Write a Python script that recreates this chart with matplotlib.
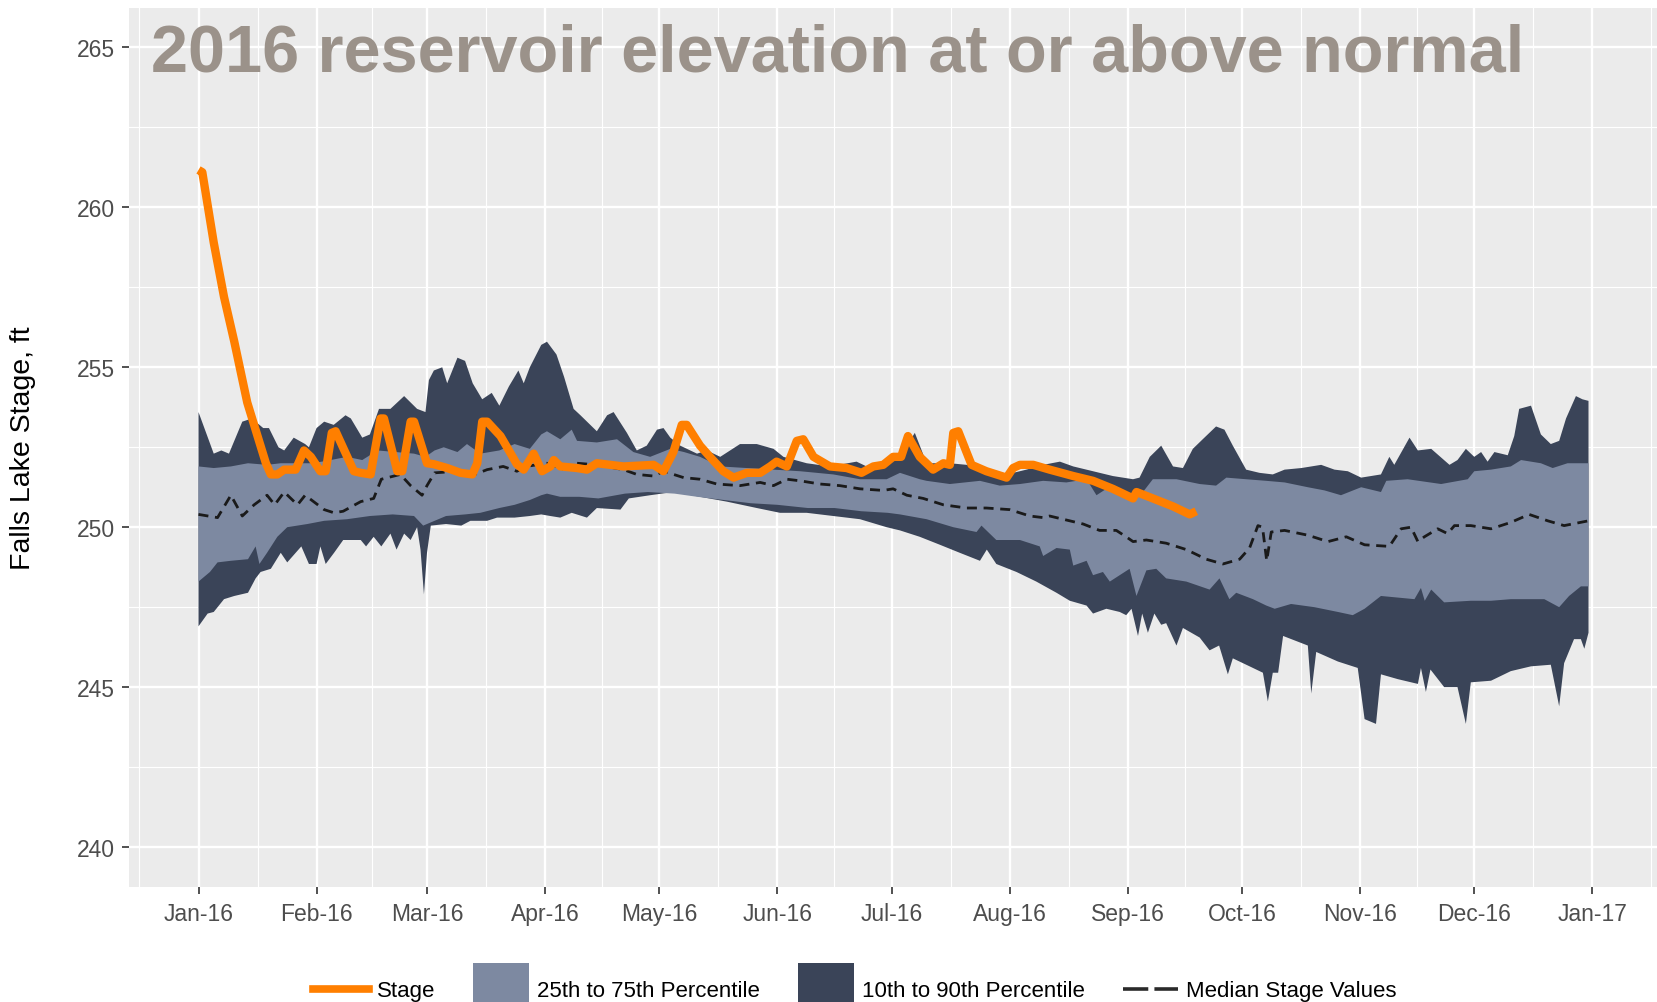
import numpy as np
import matplotlib
matplotlib.use("Agg")
import matplotlib.pyplot as plt
import matplotlib.dates as mdates
from matplotlib.lines import Line2D
from matplotlib.patches import Patch
from matplotlib.legend_handler import HandlerLine2D
from datetime import datetime

plt.rcParams['font.family'] = ['Liberation Sans', 'DejaVu Sans']

# values; x = days since 1 Jan 2016
p90_days = [0, 4, 6, 8, 11.5, 14, 17, 18.5, 21, 22.5, 25, 28, 29, 31, 33, 35.5, 38.6, 40, 43, 45,
            47.4, 50.4, 54, 57.4, 59.6, 60.5, 61.8, 64, 65.3, 68, 70, 72, 74.5, 77, 79, 81.5, 84, 85.4,
            87, 90, 91.5, 94, 96, 98.5, 100.3, 104.6, 107.3, 109, 112.5, 115.1, 117.7, 120.4, 122.1,
            123.9, 126.5, 130.9, 133.5, 137, 142.2, 146.6, 151, 153.6, 159.7, 165.8, 172.8, 177.2,
            182.4, 186, 188.1, 191.2, 197.3, 201.7, 206.9, 212.2, 217.4, 221.8, 226.2, 229.7, 234.9,
            240.1, 245.4, 247.1, 249.8, 252.8, 255.9, 258.5, 261.1, 263.7, 267.2, 269.4, 271.6, 275.1,
            278.6, 282.1, 285.2, 289.6, 294.8, 298.3, 301.8, 305.3, 310.5, 312.7, 314, 318, 320.2,
            323.7, 328.5, 330.6, 332.8, 335, 336.8, 338.5, 340.3, 343.8, 345.5, 346.8, 349.9, 352.5,
            355.1, 357.3, 359.1, 361.7, 363.4, 365]
p90_vals = [253.6, 252.3, 252.4, 252.3, 253.3, 253.4, 253.1, 253.1, 252.5, 252.4, 252.8, 252.6, 252.5,
            253.1, 253.3, 253.2, 253.5, 253.4, 252.8, 252.9, 253.7, 253.7, 254.1, 253.7, 253.6, 254.6,
            254.9, 255.0, 254.5, 255.3, 255.2, 254.5, 254.0, 254.2, 253.8, 254.4, 254.9, 254.5, 255.0,
            255.7, 255.8, 255.4, 254.7, 253.7, 253.5, 253.0, 253.5, 253.6, 252.95, 252.4, 252.55,
            253.05, 253.1, 252.8, 252.55, 252.3, 252.4, 252.2, 252.6, 252.6, 252.45, 252.2, 252.0,
            251.9, 252.05, 251.8, 252.1, 252.55, 252.95, 252.0, 252.0, 251.95, 251.8, 251.65, 251.8,
            251.95, 252.05, 251.9, 251.75, 251.6, 251.5, 251.55, 252.2, 252.55, 251.9, 251.85, 252.45,
            252.75, 253.15, 253.05, 252.55, 251.8, 251.7, 251.65, 251.8, 251.85, 251.95, 251.8, 251.75,
            251.55, 251.65, 252.2, 251.95, 252.8, 252.4, 252.45, 251.95, 252.1, 252.45, 252.2, 252.35,
            252.05, 252.35, 252.25, 252.85, 253.7, 253.8, 252.9, 252.6, 252.7, 253.4, 254.1, 254.0,
            253.95]

p75_days = [0, 4, 8.5, 13, 18, 21.6, 30, 34.7, 39, 43, 47, 56.6, 59.6, 62, 64.4, 68, 70.5, 74, 79, 83,
            87, 90, 91.5, 95, 98, 99.4, 104.6, 109.9, 114.2, 118.6, 123.9, 127.5, 131.7, 137, 144, 151,
            158, 166.7, 173.7, 180.7, 184.2, 189.4, 191.2, 197.3, 205.2, 210.4, 215.7, 221.8, 227.9,
            233.2, 235.8, 238.4, 243.6, 248, 250.6, 256.8, 262.9, 267.2, 269.9, 275.1, 280.4, 285.2,
            291.3, 295.7, 300, 305.3, 310.5, 311.9, 317.5, 326.3, 333.3, 335, 339.4, 344.6, 347.3,
            352.5, 355.6, 359.5, 365]
p75_vals = [251.9, 251.85, 251.9, 252.0, 251.95, 252.0, 252.0, 252.1, 252.2, 252.1, 252.4, 252.3, 252.2,
            252.4, 252.5, 252.35, 252.6, 252.3, 252.4, 252.6, 252.45, 252.9, 253.0, 252.75, 253.05,
            252.7, 252.65, 252.75, 252.35, 252.2, 252.45, 252.35, 252.2, 251.9, 251.85, 251.8, 251.75,
            251.65, 251.5, 251.5, 251.7, 251.5, 251.45, 251.35, 251.45, 251.3, 251.35, 251.45, 251.4,
            251.5, 251.0, 251.2, 251.0, 251.1, 251.5, 251.5, 251.35, 251.3, 251.55, 251.5, 251.45,
            251.4, 251.25, 251.15, 251.0, 251.25, 251.1, 251.45, 251.5, 251.35, 251.5, 251.75, 251.8,
            251.9, 252.1, 252.0, 251.85, 252.0, 252.0]

p25_days = [0, 3, 5, 8.5, 13, 15, 16, 18, 20.7, 23.3, 28.6, 33, 39, 45, 51, 56.6, 59, 61, 65, 70, 74,
            79, 83, 87, 90, 91.5, 95, 100, 105, 112, 118, 125, 131, 138, 145, 152, 160, 167, 174, 181,
            184.2, 191.2, 198.2, 204.3, 205.6, 209.5, 215.7, 220.9, 221.8, 225.3, 228.8, 229.7, 233.2,
            234.9, 237.5, 239.3, 244.5, 246.3, 248.9, 251.5, 254.1, 259.4, 265.5, 268.1, 270.7, 272.5,
            276.9, 280.4, 282.6, 286.9, 293, 299.2, 303.1, 306.2, 310.5, 319.3, 321, 322, 323.7, 327.1,
            334.1, 339.4, 344.6, 353.4, 357.3, 359.9, 363, 365]
p25_vals = [248.3, 248.6, 248.9, 248.95, 249.0, 249.4, 248.85, 249.2, 249.7, 250.0, 250.1, 250.2, 250.25,
            250.35, 250.4, 250.35, 250.05, 250.15, 250.35, 250.4, 250.45, 250.6, 250.7, 250.85, 251.0,
            251.05, 250.95, 250.95, 250.9, 251.05, 251.1, 251.05, 250.95, 250.85, 250.75, 250.7, 250.6,
            250.6, 250.5, 250.45, 250.4, 250.25, 250.0, 249.85, 250.05, 249.6, 249.6, 249.4, 249.1,
            249.35, 249.3, 248.8, 248.95, 248.5, 248.6, 248.3, 248.7, 247.85, 248.65, 248.7, 248.4,
            248.3, 248.05, 248.4, 247.75, 247.95, 247.75, 247.55, 247.45, 247.6, 247.5, 247.35, 247.25,
            247.45, 247.85, 247.75, 248.1, 247.7, 248.05, 247.65, 247.7, 247.7, 247.75, 247.75, 247.5,
            247.85, 248.15, 248.15]

p10_days = [0, 2.4, 4, 6.7, 9.4, 13, 15, 16.3, 19, 21.6, 23.3, 27, 29, 31, 32, 33.4, 35.6, 38, 42.6, 44,
            46, 48, 50.4, 52, 54, 55.7, 57.4, 58.3, 59.2, 60, 61, 65, 69, 71.4, 75.8, 78.4, 83, 87, 90,
            92.4, 95, 98, 102, 104.6, 110.8, 113, 118.6, 124.7, 131.7, 138.7, 146.6, 152.7, 159.7,
            166.7, 173.7, 180.7, 184.2, 189.4, 194.7, 199.9, 205.2, 207, 209.5, 214.8, 220, 225.3,
            228.8, 233.2, 234.9, 238.4, 241.9, 243.6, 245, 246.7, 247.8, 249.3, 251, 252.8, 254.1,
            256.8, 258.5, 262.9, 265.5, 268, 270.3, 271.6, 276, 279.5, 280.8, 282.1, 283.5, 284.8,
            291.3, 292.2, 293.5, 299.2, 304.4, 306.2, 309.2, 310.5, 314.9, 320.2, 321, 322.3, 323.5,
            327.1, 330.6, 332.8, 334.1, 339.4, 344.6, 349.9, 355.1, 357.3, 358.6, 361.2, 363, 363.9, 365]
p10_vals = [246.9, 247.3, 247.35, 247.75, 247.85, 247.95, 248.4, 248.6, 248.7, 249.2, 248.9, 249.4, 248.85,
            248.85, 249.4, 248.85, 249.2, 249.6, 249.6, 249.4, 249.7, 249.4, 249.8, 249.3, 249.8, 249.6,
            250.0, 249.3, 247.9, 249.2, 250.05, 250.1, 250.05, 250.2, 250.2, 250.3, 250.3, 250.35,
            250.4, 250.35, 250.3, 250.45, 250.3, 250.6, 250.55, 250.9, 251.0, 251.1, 250.95, 250.8,
            250.6, 250.45, 250.45, 250.35, 250.25, 250.0, 249.9, 249.7, 249.45, 249.2, 248.95, 249.3,
            248.85, 248.6, 248.3, 247.95, 247.7, 247.55, 247.3, 247.45, 247.35, 247.25, 247.45, 246.6,
            247.3, 246.7, 247.3, 246.95, 247.0, 246.3, 246.85, 246.55, 246.15, 246.3, 245.4, 245.9,
            245.65, 245.45, 244.55, 245.45, 245.45, 246.6, 246.3, 244.8, 246.1, 245.8, 245.6, 244.0,
            243.85, 245.4, 245.25, 245.1, 245.6, 244.85, 245.55, 245.0, 245.0, 243.85, 245.15, 245.2,
            245.5, 245.65, 245.7, 244.4, 245.75, 246.5, 246.5, 246.2, 246.7]

median_days = [0, 5, 8.5, 11.5, 14.6, 18, 20, 22.5, 26, 28, 33, 35.6, 38, 42.6, 46, 48, 53, 55.7, 58.7,
               60, 62, 68, 71.4, 75.8, 80, 83.6, 86, 91.5, 94, 95, 99.4, 104.6, 111.6, 115.1, 119.5,
               122.1, 127.4, 131.7, 136.1, 142.2, 147.5, 151, 154.5, 158, 163.2, 168.4, 173.7, 179.8,
               182.4, 186, 190.3, 195.6, 201.7, 206.9, 213, 218.3, 221.8, 223.5, 227, 232.3, 236.6, 241,
               243.6, 245.4, 248.9, 254.1, 259.4, 264.6, 269, 273.4, 276, 278.2, 279.4, 280.5, 281.7,
               285.2, 291.3, 296.6, 301.4, 306.2, 312.7, 315.8, 318.4, 320.2, 321.9, 325.4, 328, 329.8,
               334.1, 339.4, 344.6, 349.4, 354.3, 358.6, 365]
median_vals = [250.4, 250.3, 251.0, 250.35, 250.7, 251.0, 250.7, 251.1, 250.7, 251.0, 250.55, 250.45,
               250.5, 250.8, 250.9, 251.5, 251.65, 251.3, 251.0, 251.3, 251.7, 251.75, 251.6, 251.8,
               251.9, 251.75, 251.9, 252.0, 251.9, 251.8, 252.0, 251.95, 251.8, 251.65, 251.6, 251.75,
               251.55, 251.5, 251.35, 251.3, 251.4, 251.3, 251.5, 251.45, 251.35, 251.3, 251.2, 251.15,
               251.2, 251.0, 250.9, 250.7, 250.6, 250.6, 250.55, 250.35, 250.3, 250.35, 250.25, 250.1,
               249.9, 249.9, 249.7, 249.55, 249.6, 249.5, 249.3, 249.0, 248.85, 249.0, 249.35, 250.05,
               250.0, 248.95, 249.85, 249.9, 249.75, 249.55, 249.7, 249.45, 249.4, 249.95, 250.0,
               249.55, 249.7, 249.95, 249.8, 250.05, 250.05, 249.95, 250.15, 250.4, 250.2, 250.05, 250.2]

stage_days = [0, 1, 4, 6.7, 9.4, 12.8, 15.5, 17.7, 19, 20.7, 22.5, 25.5, 27.7, 29.5, 32, 33.4, 35, 36,
              40.8, 42.6, 45.2, 47.8, 48.7, 52.2, 53.5, 55.7, 56.6, 60, 61.8, 65.3, 68.8, 71.9, 73.2,
              74.5, 75.8, 79.3, 82, 83.6, 85.4, 88, 90.2, 92.4, 93.3, 95, 99.4, 102, 104.6, 111.6, 119.5,
              122.1, 124.7, 126.9, 128.2, 131.7, 134.3, 137.8, 140.5, 144, 147.5, 150.1, 151.8, 154.5,
              157.1, 158.8, 161.5, 165.8, 170.2, 174.1, 177.2, 179.8, 182.4, 184.5, 186.3, 189.4, 192.9,
              195.6, 197.3, 198.2, 199.5, 203, 206.9, 212.2, 213.9, 215.7, 219.2, 223.5, 229.7, 234.9,
              240.1, 245.4, 246.3, 250.6, 255.9, 260.3, 262]
stage_vals = [261.17, 261.1, 258.9, 257.2, 255.8, 253.9, 252.85, 252.0, 251.65, 251.65, 251.8, 251.8,
              252.4, 252.2, 251.75, 251.75, 252.95, 253.0, 251.75, 251.7, 251.65, 253.4, 253.4, 251.75,
              251.75, 253.3, 253.3, 252.0, 251.97, 251.85, 251.7, 251.65, 252.0, 253.3, 253.3, 252.85,
              252.3, 251.97, 251.8, 252.3, 251.75, 251.9, 252.1, 251.9, 251.85, 251.8, 252.0, 251.9,
              251.95, 251.75, 252.35, 253.2, 253.2, 252.55, 252.2, 251.75, 251.55, 251.7, 251.7, 251.9,
              252.05, 251.9, 252.7, 252.75, 252.2, 251.9, 251.85, 251.7, 251.9, 251.95, 252.2, 252.2,
              252.85, 252.2, 251.8, 252.0, 251.95, 252.95, 253.0, 251.95, 251.75, 251.55, 251.85, 251.95,
              251.95, 251.8, 251.6, 251.45, 251.2, 250.9, 251.1, 250.9, 250.65, 250.4, 250.5]

yticks = [240, 245, 250, 255, 260, 265]
title = "2016 reservoir elevation at or above normal"

base = mdates.date2num(datetime(2016, 1, 1))


def dx(days):
    return base + np.asarray(days, dtype=float)


class LowLine(HandlerLine2D):
    # put legend lines level with the text, as in the original
    def create_artists(self, legend, orig_handle, xdescent, ydescent, width, height, fontsize, trans):
        arts = super().create_artists(legend, orig_handle, xdescent, ydescent, width, height,
                                      fontsize, trans)
        for a in arts:
            a.set_ydata(np.asarray(a.get_ydata()) - 0.43 * fontsize)
        return arts


dark = '#3A4458'
light = '#7D89A1'
orange = '#FF7F00'

fig = plt.figure(figsize=(16.58, 10.03), dpi=100)
ax = fig.add_axes([129 / 1658, 1 - 888 / 1003, 1 - 129 / 1658, (888 - 8.5) / 1003])
ax.set_facecolor('#EBEBEB')

# 10th-90th band, then 25th-75th band on top
ax.fill(np.r_[dx(p90_days), dx(p10_days)[::-1]], np.r_[p90_vals, p10_vals[::-1]],
        color=dark, lw=0, zorder=2)
ax.fill(np.r_[dx(p75_days), dx(p25_days)[::-1]], np.r_[p75_vals, p25_vals[::-1]],
        color=light, lw=0, zorder=3)
ax.plot(dx(median_days), median_vals, color='#1A1A1A', lw=2.0, ls=(0, (3.6, 2.4)), zorder=4)
ax.plot(dx(stage_days), stage_vals, color=orange, lw=6, solid_joinstyle='round',
        solid_capstyle='butt', zorder=5)

ax.set_xlim(base - 18.25, base + 383.25)
ax.set_ylim(238.75, 266.25)
ax.set_yticks(yticks)
ax.yaxis.set_minor_locator(matplotlib.ticker.MultipleLocator(2.5))
ax.xaxis.set_major_locator(mdates.MonthLocator())
ax.xaxis.set_major_formatter(mdates.DateFormatter('%b-%y'))
months = [mdates.date2num(datetime(2015 + (m // 12), m % 12 + 1, 1)) for m in range(11, 26)]
ax.xaxis.set_minor_locator(matplotlib.ticker.FixedLocator(
    [(a + b) / 2 for a, b in zip(months[:-1], months[1:])]))

ax.set_axisbelow(True)
ax.grid(which='major', color='white', lw=1.7, zorder=0)
ax.grid(which='minor', color='white', lw=0.8, zorder=0)
for s in ax.spines.values():
    s.set_visible(False)
ax.tick_params(which='major', length=5, width=1.2, color='#333333', labelcolor='#4D4D4D',
               labelsize=16.5)
ax.tick_params(axis='y', pad=5)
ax.tick_params(axis='x', pad=6)
ax.tick_params(which='minor', length=0)

fig.text(151 / 1658, 1 - 72 / 1003, title, fontsize=48, fontweight='bold', color='#9B928A',
         ha='left', va='baseline')
fig.text(23 / 1658, 1 - 448 / 1003, "Falls Lake Stage, ft", fontsize=20.5, rotation=90,
         ha='center', va='center', color='black')

h_stage = Line2D([], [], color=orange, lw=5.5)
h_median = Line2D([], [], color='#2A2A2A', lw=2.6, ls=(0, (7, 1.7)))
handles = [h_stage,
           Patch(facecolor=light, edgecolor='none'),
           Patch(facecolor=dark, edgecolor='none'),
           h_median]
labels = ["Stage", "25th to 75th Percentile", "10th to 90th Percentile", "Median Stage Values"]
fig.legend(handles, labels, loc='upper center', bbox_to_anchor=(855 / 1658, 1 - 964 / 1003),
           ncol=4, frameon=False, fontsize=16, handlelength=2.5, handleheight=3.3,
           handletextpad=0.36, columnspacing=1.72, borderpad=0, borderaxespad=0,
           handler_map={h_stage: LowLine(), h_median: LowLine()})

fig.savefig('out.png', dpi=100)
